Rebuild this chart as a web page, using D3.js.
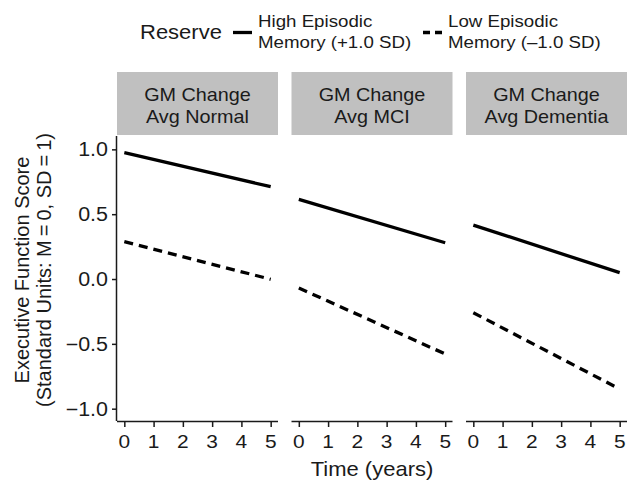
<!DOCTYPE html>
<html>
<head>
<meta charset="utf-8">
<script src="https://cdn.jsdelivr.net/npm/d3@7"></script>
<style>
body { margin: 0; background: #fff; }
text { font-family: "Liberation Sans", Arial, sans-serif; }
</style>
</head>
<body>
<svg id="chart" width="627" height="482"></svg>
<script>
// values
var panels = ["Avg Normal", "Avg MCI", "Avg Dementia"];
var years = [0, 5];
var highEM = [[0.974, 0.712], [0.614, 0.280], [0.416, 0.049]];
var lowEM = [[0.288, -0.002], [-0.069, -0.578], [-0.260, -0.848]];
var xTicks = [0, 1, 2, 3, 4, 5];
var yTicks = [-1.0, -0.5, 0.0, 0.5, 1.0];
var series = [
  {name: "High Episodic|Memory (+1.0 SD)", vals: highEM, dash: null},
  {name: "Low Episodic|Memory (\u20131.0 SD)", vals: lowEM, dash: "9,6"}
];

var svg = d3.select("#chart");
var sx = 1.1; // text in the picture is a bit wide

var pTop = 136, pBottom = 421, left0 = 117, pw = 161, gap = 13.5;
var stripTop = 72;

var y = d3.scaleLinear().domain([-1.095, 1.103]).range([pBottom, pTop]);
var fmt = d3.format(".1f");

function txt(g, x, yy, s, size, anchor) {
  return g.append("text")
    .attr("transform", "translate(" + x + "," + yy + ") scale(" + sx + ",1)")
    .attr("text-anchor", anchor || "middle")
    .style("font-size", size + "px")
    .attr("fill", "#1a1a1a")
    .text(s);
}

panels.forEach(function(p, i) {
  var L = left0 + i * (pw + gap);
  var x = d3.scaleLinear().domain([-0.25, 5.25]).range([L, L + pw]);
  var g = svg.append("g");

  // strip
  g.append("rect").attr("x", L).attr("y", stripTop)
    .attr("width", pw).attr("height", pTop - 1 - stripTop)
    .attr("fill", "#c0c0c0");
  txt(g, L + pw / 2, 101, "GM Change", 18);
  txt(g, L + pw / 2, 122.5, p, 18);

  // bottom axis
  var ax = g.append("g").attr("transform", "translate(0," + pBottom + ")")
    .call(d3.axisBottom(x).tickValues(xTicks).tickSize(6).tickPadding(4).tickFormat(d3.format("d")));
  ax.select(".domain").attr("d", "M" + L + ",0.5H" + (L + pw)).attr("stroke", "#1a1a1a").attr("stroke-width", 1.5);
  ax.selectAll(".tick line").attr("stroke", "#1a1a1a").attr("stroke-width", 1.5);
  ax.selectAll(".tick text").remove();
  xTicks.forEach(function(t) { txt(ax, x(t), 27, String(t), 19); });

  if (i === 0) {
    var ay = g.append("g").attr("transform", "translate(" + L + ",0)")
      .call(d3.axisLeft(y).tickValues(yTicks).tickSize(5).tickPadding(4));
    ay.select(".domain").attr("d", "M-0.5," + pTop + "V" + pBottom).attr("stroke", "#1a1a1a").attr("stroke-width", 1.5);
    ay.selectAll(".tick line").attr("stroke", "#1a1a1a").attr("stroke-width", 1.5);
    ay.selectAll(".tick text").remove();
    yTicks.forEach(function(t) { txt(ay, -9, y(t) + 7, fmt(t), 19.5, "end"); });
  }

  var line = d3.line().x(function(d, k) { return x(years[k]); }).y(function(d) { return y(d); });
  series.forEach(function(s) {
    g.append("path").attr("d", line(s.vals[i]))
      .attr("fill", "none").attr("stroke", "#000").attr("stroke-width", 3.3)
      .attr("stroke-dasharray", s.dash);
  });
});

// axis titles
var midX = (left0 + left0 + 3 * pw + 2 * gap) / 2;
txt(svg, midX, 476, "Time (years)", 20);
var yt = svg.append("text").attr("transform", "translate(29,270) rotate(-90)")
  .attr("text-anchor", "middle").style("font-size", "20px").attr("fill", "#1a1a1a");
yt.append("tspan").attr("x", 0).attr("dy", 0).text("Executive Function Score");
yt.append("tspan").attr("x", 0).attr("dy", 22).text("(Standard Units: M\u2009=\u20090, SD\u2009=\u20091)");

// legend
var lg = svg.append("g");
txt(lg, 140, 39.3, "Reserve", 20, "start");
var keyX = [233, 423];
series.forEach(function(s, k) {
  lg.append("line").attr("x1", keyX[k]).attr("x2", keyX[k] + 19)
    .attr("y1", 32.5).attr("y2", 32.5)
    .attr("stroke", "#000").attr("stroke-width", 3.3)
    .attr("stroke-dasharray", s.dash ? "7,5" : null);
  var parts = s.name.split("|");
  txt(lg, keyX[k] + 25, 27.3, parts[0], 17, "start");
  txt(lg, keyX[k] + 25, 48.3, parts[1], 17, "start");
});
</script>
</body>
</html>
